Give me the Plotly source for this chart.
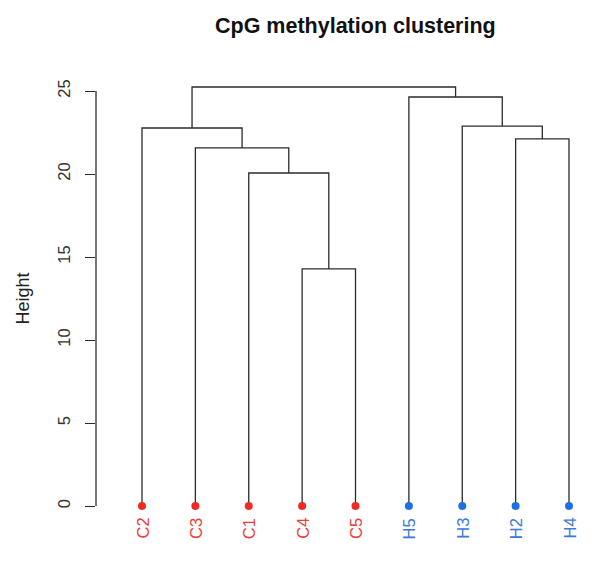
import plotly.graph_objects as go

# ---- data ----
leaf_labels = ["C2", "C3", "C1", "C4", "C5", "H5", "H3", "H2", "H4"]
leaf_groups = ["C", "C", "C", "C", "C", "H", "H", "H", "H"]
# hclust-style merges: a string = leaf label, an int = earlier merge (1-based)
merge_a = ["C4", "C1", "C3", "H2", "C2", "H3", "H5", 5]
merge_b = ["C5", 1, 2, "H4", 3, 4, 6, 7]
merge_height = [14.28, 20.06, 21.57, 22.11, 22.77, 22.89, 24.64, 25.24]
y_ticks = [0, 5, 10, 15, 20, 25]

title_text = "CpG methylation clustering"
ylabel_text = "Height"

# ---- styles ----
FONT = "Liberation Sans, Arial, Helvetica, sans-serif"
LINE_COLOR = "#2b2b2b"
DOT_COLORS = {"C": "#ee2a24", "H": "#1f6fe5"}
LABEL_COLORS = {"C": "#e8403c", "H": "#3b78dc"}

pos = {lab: i + 1 for i, lab in enumerate(leaf_labels)}

def node_xy(ref, centers):
    if isinstance(ref, str):
        return pos[ref], 0.0
    return centers[ref - 1]

xs, ys = [], []
centers = []
for a, b, h in zip(merge_a, merge_b, merge_height):
    xa, ha = node_xy(a, centers)
    xb, hb = node_xy(b, centers)
    xs += [xa, xa, xb, xb, None]
    ys += [ha, h, h, hb, None]
    centers.append(((xa + xb) / 2, h))

fig = go.Figure()
fig.add_trace(go.Scatter(x=xs, y=ys, mode="lines",
                         line=dict(color=LINE_COLOR, width=1.3),
                         hoverinfo="skip", showlegend=False))
fig.add_trace(go.Scatter(x=[pos[l] for l in leaf_labels], y=[0] * len(leaf_labels),
                         mode="markers",
                         marker=dict(size=8, color=[DOT_COLORS[g] for g in leaf_groups]),
                         text=leaf_labels, hoverinfo="text", showlegend=False,
                         cliponaxis=False))

annotations = []
for lab, g in zip(leaf_labels, leaf_groups):
    annotations.append(dict(x=pos[lab], y=0, xref="x", yref="y", text=lab,
                            textangle=-90, showarrow=False, xanchor="center",
                            yanchor="top", yshift=-10,
                            font=dict(family=FONT, size=16.5, color=LABEL_COLORS[g])))
annotations.append(dict(x=(1 + len(leaf_labels)) / 2, y=1, xref="x", yref="paper",
                        text="<b>" + title_text + "</b>", showarrow=False,
                        xanchor="center", yanchor="middle", yshift=34,
                        font=dict(family=FONT, size=21.5, color="#111111")))
annotations.append(dict(x=0, y=(y_ticks[0] + y_ticks[-1]) / 2, xref="paper", yref="y",
                        text=ylabel_text, textangle=-90, showarrow=False,
                        xanchor="center", yanchor="middle", xshift=-74,
                        font=dict(family=FONT, size=18, color="#222222")))

# page geometry (the page body offsets the figure by 8px)
OFF = 8
W, H = 600 - OFF, 561 - OFF
px_per_leaf = 53.375
first_leaf_px = 142 - OFF
left_px, right_px = 96 - OFF, W
x0 = 1 - (first_leaf_px - left_px) / px_per_leaf
x1 = 1 + (right_px - first_leaf_px) / px_per_leaf
px_per_unit = 16.6
top_px, bottom_px, zero_px = 60 - OFF, 530 - OFF, 506 - OFF

fig.update_layout(
    width=W, height=H,
    margin=dict(l=left_px, r=W - right_px, t=top_px, b=H - bottom_px, pad=0),
    paper_bgcolor="white", plot_bgcolor="white",
    font=dict(family=FONT, size=16, color="#333333"),
    annotations=annotations,
    shapes=[dict(type="line", xref="paper", yref="y", x0=0, x1=0,
                 y0=y_ticks[0], y1=y_ticks[-1],
                 line=dict(color=LINE_COLOR, width=1.3))],
    xaxis=dict(range=[x0, x1], showgrid=False, zeroline=False, showline=False,
               showticklabels=False, ticks=""),
    yaxis=dict(range=[-(bottom_px - zero_px) / px_per_unit, (zero_px - top_px) / px_per_unit],
               tickvals=y_ticks, ticktext=[str(t) for t in y_ticks],
               ticks="outside", ticklen=10, tickwidth=1.3, tickcolor=LINE_COLOR,
               tickangle=-90, ticklabelstandoff=8,
               showgrid=False, zeroline=False, showline=False,
               tickfont=dict(family=FONT, size=16.5, color="#333333")),
)

fig.write_html("out.html")
